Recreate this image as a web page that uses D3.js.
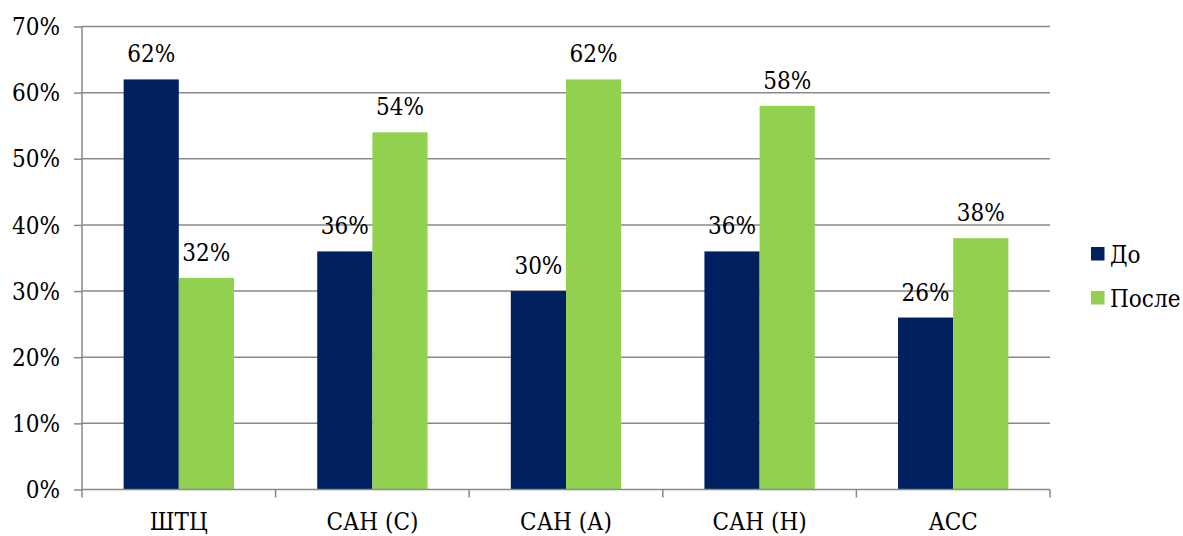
<!DOCTYPE html>
<meta charset="utf-8">
<script src="https://d3js.org/d3.v7.min.js"></script>
<div id="my_dataviz"></div>
<script>

// data
var groups = ["ШТЦ", "САН (С)", "САН (А)", "САН (Н)", "АСС"];
var subgroups = ["До", "После"];
var before = [62, 36, 30, 36, 26];
var after = [32, 54, 62, 58, 38];
var yTicks = [0, 10, 20, 30, 40, 50, 60, 70];

var colors = ["#002060", "#92D050"];
var serif = "DejaVu Serif";
var fs = 24;

d3.select("body").style("margin", "0").style("background", "#fff");

var margin = {top: 26.5, right: 133, bottom: 46.5, left: 82},
    width = 1183 - margin.left - margin.right,
    height = 536 - margin.top - margin.bottom;

var svg = d3.select("#my_dataviz")
  .append("svg")
    .attr("width", 1183)
    .attr("height", 536)
    .attr("font-family", serif)
    .attr("font-size", fs)
    .style("font-stretch", "condensed")
  .append("g")
    .attr("transform", "translate(" + margin.left + "," + margin.top + ")");

var x = d3.scaleBand()
    .domain(groups)
    .range([0, width])
    .paddingInner(0.43)
    .paddingOuter(0.215);

// category slots for the bottom ticks and labels
var slot = d3.scaleBand().domain(groups).range([0, width]);

var xSub = d3.scaleBand()
    .domain(subgroups)
    .range([0, x.bandwidth()]);

var y = d3.scaleLinear()
    .domain([0, 70])
    .range([height, 0]);

// gridlines
svg.append("g")
  .selectAll("line")
  .data(yTicks.slice(1))
  .enter().append("line")
    .attr("x1", 0)
    .attr("x2", width)
    .attr("y1", function(d) { return y(d); })
    .attr("y2", function(d) { return y(d); })
    .attr("stroke", "#898989")
    .attr("stroke-width", 1.5);

// bars
var data = groups.map(function(g, i) { return {group: g, values: [before[i], after[i]]}; });

var bar = svg.append("g")
  .selectAll("g")
  .data(data)
  .enter().append("g")
    .attr("transform", function(d) { return "translate(" + x(d.group) + ",0)"; });

bar.selectAll("rect")
  .data(function(d) { return subgroups.map(function(k, j) { return {key: k, value: d.values[j], c: colors[j]}; }); })
  .enter().append("rect")
    .attr("x", function(d) { return xSub(d.key); })
    .attr("y", function(d) { return y(d.value); })
    .attr("width", xSub.bandwidth())
    .attr("height", function(d) { return height - y(d.value); })
    .attr("fill", function(d) { return d.c; });

bar.selectAll("text")
  .data(function(d) { return subgroups.map(function(k, j) { return {key: k, value: d.values[j]}; }); })
  .enter().append("text")
    .attr("x", function(d) { return xSub(d.key) + xSub.bandwidth() / 2; })
    .attr("y", function(d) { return y(d.value) - 17; })
    .attr("text-anchor", "middle")
    .text(function(d) { return d.value + "%"; });

// Y axis
var yAxis = svg.append("g")
  .call(d3.axisLeft(y).tickValues(yTicks).tickSize(8).tickPadding(14)
        .tickFormat(function(d) { return d + "%"; }));
yAxis.attr("font-family", serif).attr("font-size", fs);
yAxis.select(".domain").attr("stroke", "#898989").attr("stroke-width", 1.5).attr("d", "M0,0V" + height);
yAxis.selectAll(".tick line").attr("stroke", "#898989").attr("stroke-width", 1.5);
yAxis.selectAll(".tick text")
    .attr("fill", "#000")
    .attr("dy", "0.34em");

// X axis, ticks at category boundaries
var xg = svg.append("g").attr("transform", "translate(0," + height + ")");
xg.append("line").attr("x1", 0).attr("x2", width).attr("stroke", "#898989").attr("stroke-width", 1.5);
xg.selectAll(".bt")
  .data(groups.concat(["end"]))
  .enter().append("line")
    .attr("x1", function(d, i) { return i < groups.length ? slot(d) : width; })
    .attr("x2", function(d, i) { return i < groups.length ? slot(d) : width; })
    .attr("y1", 0).attr("y2", 8)
    .attr("stroke", "#898989").attr("stroke-width", 1.5);
xg.selectAll("text")
  .data(groups)
  .enter().append("text")
    .attr("x", function(d) { return slot(d) + slot.bandwidth() / 2; })
    .attr("y", 40)
    .attr("text-anchor", "middle")
    .text(function(d) { return d; });

// legend
var legend = d3.select("svg").append("g");
subgroups.forEach(function(k, i) {
  legend.append("rect").attr("x", 1091).attr("y", 247 + i * 44).attr("width", 13.5).attr("height", 13.5).attr("fill", colors[i]);
  legend.append("text").attr("x", 1110).attr("y", 263 + i * 44).text(k);
});
</script>
